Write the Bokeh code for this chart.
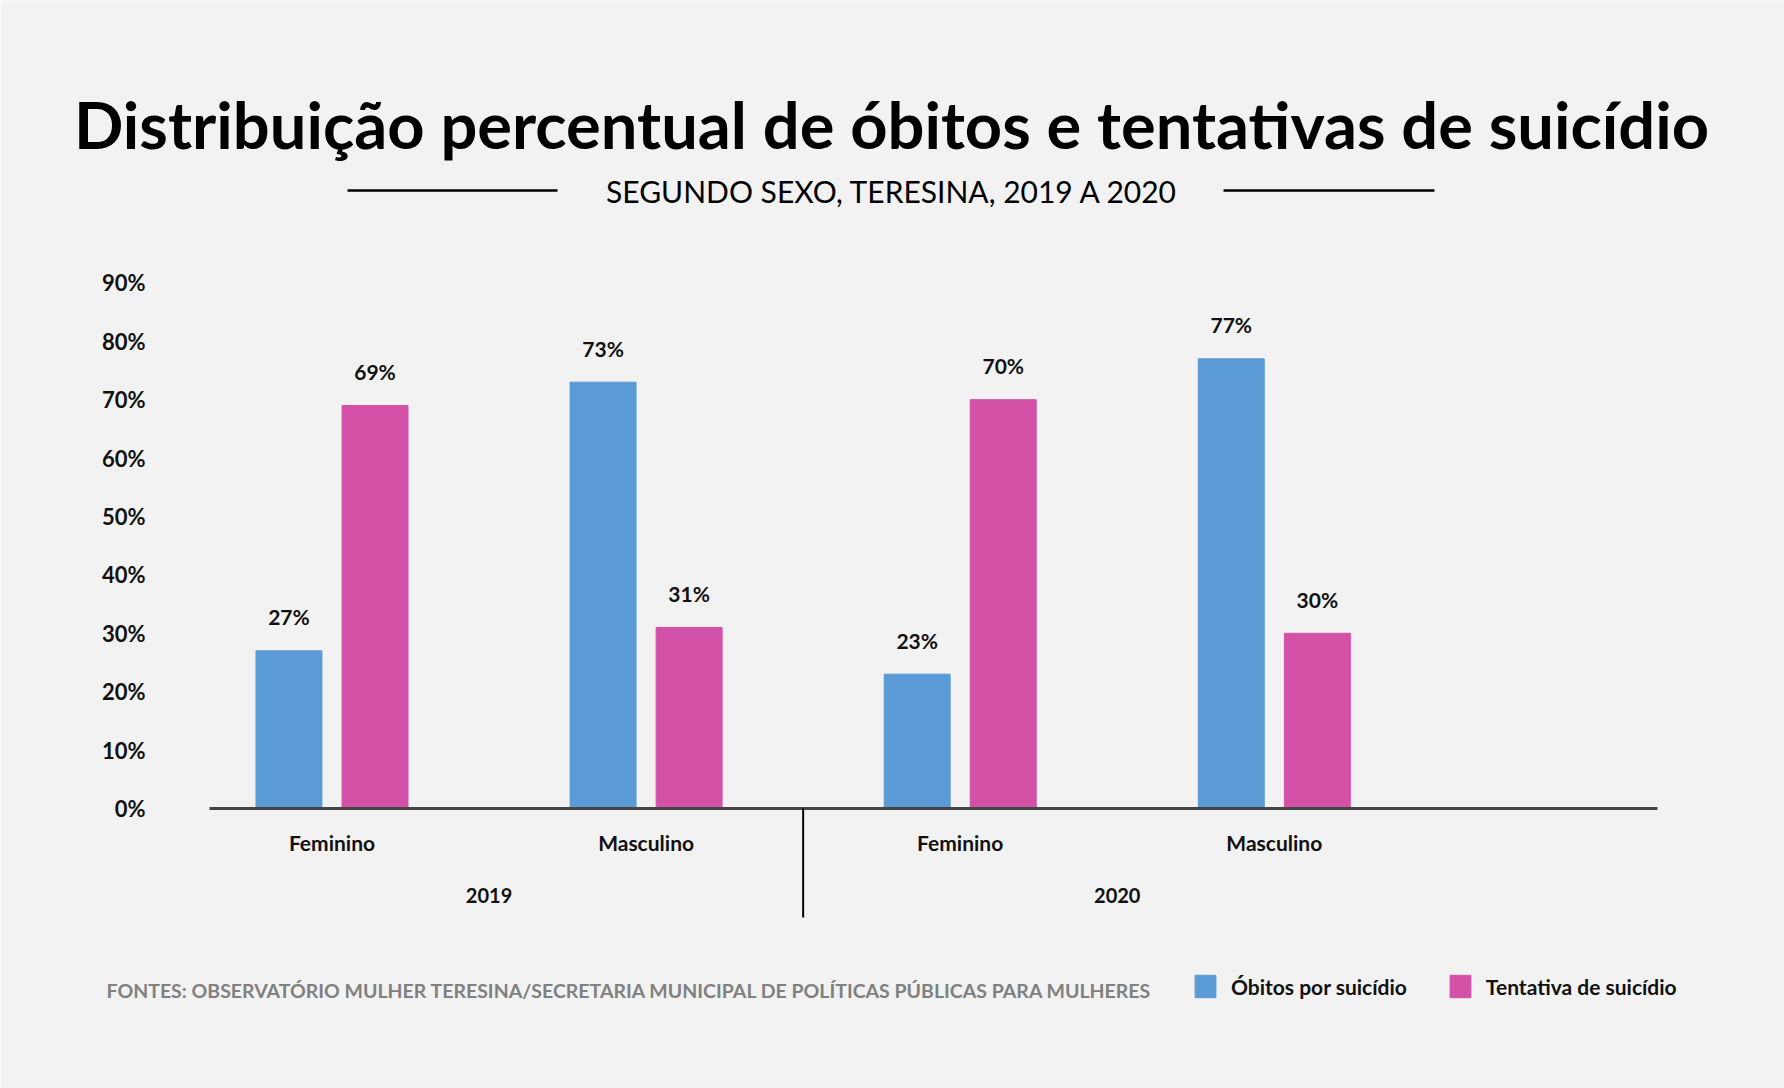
from bokeh.plotting import figure
from bokeh.models import Range1d
from bokeh.core.properties import value
from bokeh.embed import file_html
from bokeh.resources import INLINE

# data
years = ["2019", "2020"]
sexes = ["Feminino", "Masculino"]
obitos = [27, 73, 23, 77]        # Óbitos por suicídio (%)
tentativas = [69, 31, 70, 30]    # Tentativa de suicídio (%)
y_ticks = [0, 10, 20, 30, 40, 50, 60, 70, 80, 90]

BG = "#f2f2f2"
BLUE = "#5b9bd5"
PINK = "#d451a8"
INK = "#111111"
FONT = value("Lato")

# canvas and plot area, in px
W, H = 1784, 1088
PL, PR, PB, PT = 209, 1657, 808, 224
XMIN, XMAX, YMIN, YMAX = 0.61, 5.22, 0, 100

sx = (PR - PL) / (XMAX - XMIN)
sy = (PB - PT) / (YMAX - YMIN)

p = figure(width=W, height=H, output_backend="svg", toolbar_location=None,
           x_range=(XMIN - PL / sx, XMAX + (W - PR) / sx),
           y_range=(YMIN - (H - PB) / sy, YMAX + PT / sy),
           x_axis_location=None, y_axis_location=None, min_border=0,
           background_fill_color=BG, border_fill_color=BG, outline_line_color=None)
p.grid.grid_line_color = None
# pixel ranges for the decorations around the chart
p.extra_x_ranges = {"px": Range1d(0, W)}
p.extra_y_ranges = {"px": Range1d(H, 0)}

groups = list(range(1, len(years) * len(sexes) + 1))
x_obitos = [g - 0.137 for g in groups]
x_tent = [g + 0.137 for g in groups]

p.vbar(x=x_obitos, top=obitos, width=0.21, color=BLUE, legend_label="Óbitos por suicídio")
p.vbar(x=x_tent, top=tentativas, width=0.21, color=PINK, legend_label="Tentativa de suicídio")

for xs, vals in ((x_obitos, obitos), (x_tent, tentativas)):
    p.text(x=xs, y=vals, text=[f"{v}%" for v in vals], text_align="center", text_baseline="middle",
           y_offset=-34, text_font=FONT, text_font_style="bold", text_font_size="21px",
           text_color=INK)

# y axis labels
p.text(x=[145] * len(y_ticks), y=y_ticks, text=[f"{t}%" for t in y_ticks], x_range_name="px",
       text_align="right", text_baseline="middle", text_font=FONT, text_font_style="bold",
       text_font_size="22px", text_color=INK)

# x axis line
p.segment(x0=[XMIN], y0=[YMIN], x1=[XMAX], y1=[YMIN], line_color="#444444", line_width=3)

# category and year labels
p.text(x=groups, y=[842] * len(groups), y_range_name="px",
       text=[sexes[(g - 1) % len(sexes)] for g in groups],
       text_align="center", text_baseline="middle", text_font=FONT, text_font_style="bold",
       text_font_size="21px", text_color=INK)
year_pos = [i * len(sexes) + (len(sexes) + 1) / 2 for i in range(len(years))]
p.text(x=year_pos, y=[895] * len(years), y_range_name="px", text=years,
       text_align="center", text_baseline="middle", text_font=FONT, text_font_style="bold",
       text_font_size="20px", text_color=INK)

# separator between years
seps = [i * len(sexes) + 0.5 for i in range(1, len(years))]
p.segment(x0=seps, y0=[808] * len(seps), x1=seps, y1=[917] * len(seps), y_range_name="px",
          line_color="#000000", line_width=2)

# title, subtitle and source
p.text(x=[891], y=[123], text=["Distribuição percentual de óbitos e tentativas de suicídio"],
       x_range_name="px", y_range_name="px", text_align="center", text_baseline="middle",
       text_font=FONT, text_font_style="bold", text_font_size="65px", text_color="#000000")
p.text(x=[892], y=[190], text=["SEGUNDO SEXO, TERESINA, 2019 A 2020"],
       x_range_name="px", y_range_name="px", text_align="center", text_baseline="middle",
       text_font=FONT, text_font_size="30px", text_color="#000000")
p.segment(x0=[347, 1223], y0=[190, 190], x1=[557, 1434], y1=[190, 190],
          x_range_name="px", y_range_name="px", line_color="#000000", line_width=2.5)
p.text(x=[106], y=[990],
       text=["FONTES: OBSERVATÓRIO MULHER TERESINA/SECRETARIA MUNICIPAL DE POLÍTICAS PÚBLICAS PARA MULHERES"],
       x_range_name="px", y_range_name="px", text_align="left", text_baseline="middle",
       text_font=FONT, text_font_style="bold", text_font_size="19.5px", text_color="#808080")

# legend
lg = p.legend[0]
lg.location = (1192, H - 1000)
lg.orientation = "horizontal"
lg.glyph_width = 26
lg.glyph_height = 28
lg.label_standoff = 13
lg.spacing = 40
lg.padding = 0
lg.margin = 0
lg.border_line_color = None
lg.background_fill_alpha = 0
lg.label_text_font = "Lato"
lg.label_text_font_style = "bold"
lg.label_text_font_size = "21px"
lg.label_text_color = INK

open("out.html", "w").write(file_html(p, INLINE))
